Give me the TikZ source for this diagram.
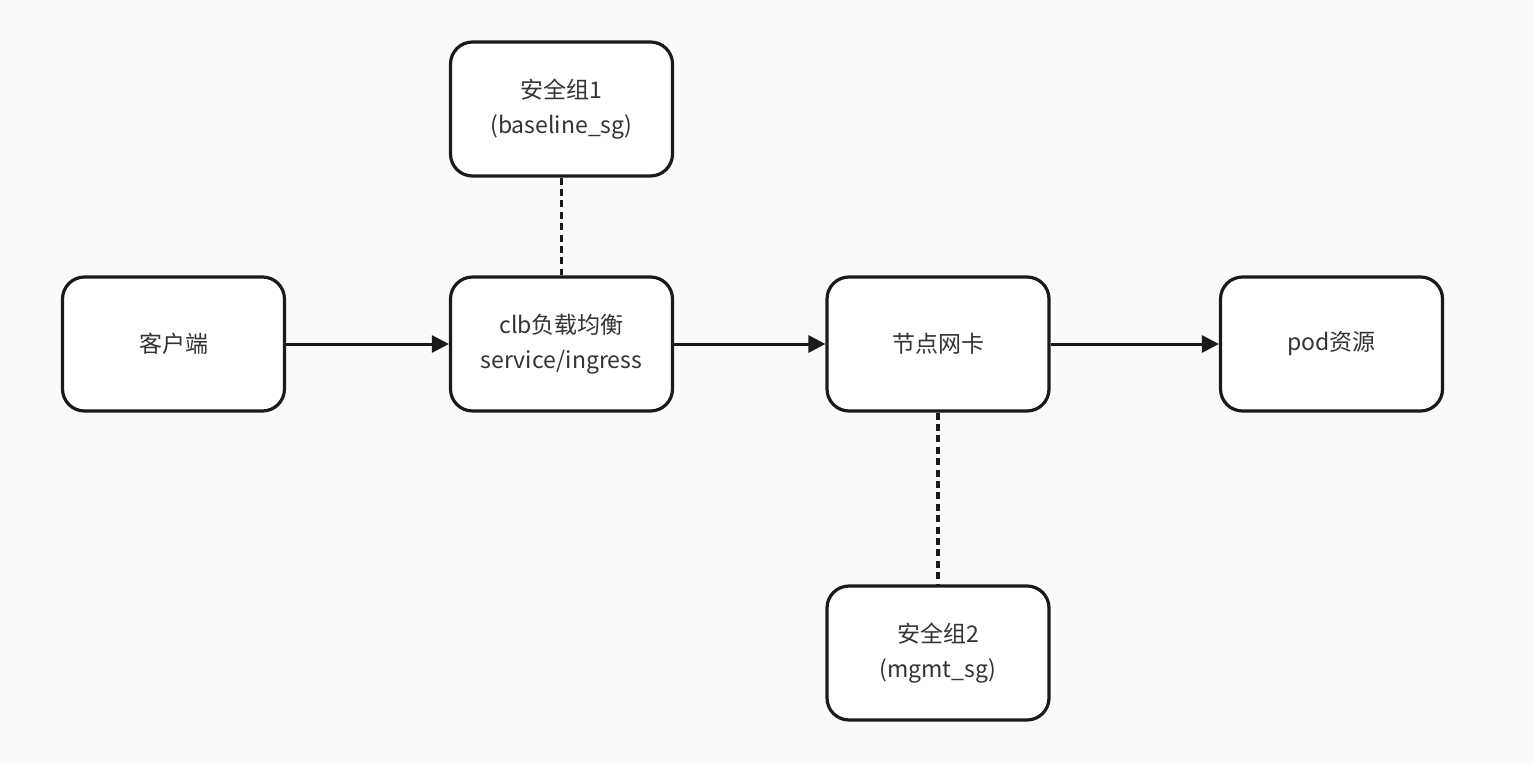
\documentclass[tikz,border=0pt]{standalone}
\usepackage{fontspec}
\setmainfont{Noto Sans CJK SC}
\usepackage{tikz}
\usepackage{xcolor}
\usetikzlibrary{arrows.meta}
\definecolor{bgcol}{HTML}{FAFAFA}
\definecolor{linecol}{HTML}{1A1A1A}
\definecolor{textcol}{HTML}{333333}
\tikzset{
    flow-box/.style = {draw=linecol, fill=white, line width=1.6pt, rectangle, rounded corners=11pt,
        minimum width=111pt, minimum height=67pt, align=center, text=textcol,
        font=\fontsize{11.5pt}{17.5pt}\selectfont},
    flow-arrow/.style = {draw=linecol, line width=1.5pt, -{Triangle[length=8.5pt,width=8.5pt]}},
    sg-link/.style = {draw=linecol, line width=1.6pt, dash pattern=on 3.5pt off 2.2pt},
}

\begin{document}
\begin{tikzpicture}[x=0.5pt, y=-0.5pt]
\fill[bgcol] (0,0) rectangle (1534,764);
\useasboundingbox (0,0) rectangle (1534,764);
% main chain
\node [flow-box] (client) at (173.5,344) {客户端};
\node [flow-box] (clb) at (561.5,344) {clb负载均衡\\service/ingress};
\node [flow-box] (nic) at (938,344) {节点网卡};
\node [flow-box] (pod) at (1331.5,344) {pod资源};
% security groups
\node [flow-box] (sg1) at (561.5,109) {安全组1\\(baseline\_sg)};
\node [flow-box] (sg2) at (938,653) {安全组2\\(mgmt\_sg)};
\draw [flow-arrow] (client) -- (clb);
\draw [flow-arrow] (clb) -- (nic);
\draw [flow-arrow] (nic) -- (pod);
\draw [sg-link] (sg1) -- (clb);
\draw [sg-link] (nic) -- (sg2);
\end{tikzpicture}
\end{document}
